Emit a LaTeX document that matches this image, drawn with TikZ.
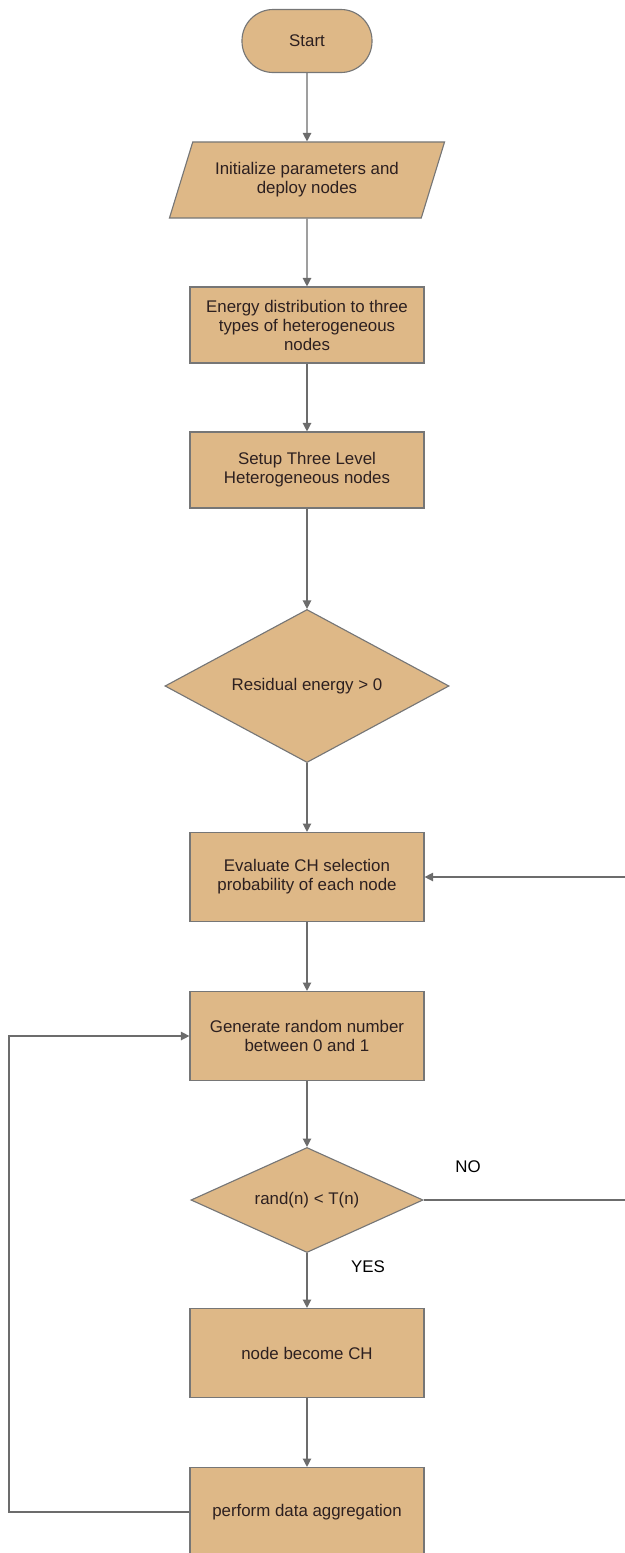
\documentclass[tikz,border=0pt]{standalone}
\usepackage{fontspec}
\setmainfont{Liberation Sans}
\usetikzlibrary{shapes.geometric,arrows.meta}
\definecolor{boxtan}{RGB}{222,184,135}
\definecolor{edgegray}{RGB}{118,118,118}
\definecolor{linkgray}{RGB}{108,108,108}
\definecolor{inkdark}{RGB}{45,32,32}
\begin{document}
\begin{tikzpicture}[x=0.025cm,y=-0.025cm,font=\fontsize{12}{13.5}\selectfont,
  base/.style={draw=edgegray,fill=boxtan,line width=0.8pt,text=inkdark,align=center,inner sep=2pt},
  procbox/.style={base,rectangle,minimum width=5.85cm,minimum height=1.9cm},
  tallbox/.style={procbox,minimum height=2.225cm},
  termbox/.style={base,rectangle,rounded corners=0.78cm,minimum width=3.25cm,minimum height=1.575cm},
  iobox/.style={base,trapezium,trapezium left angle=60,trapezium right angle=120,trapezium stretches body,minimum width=6.875cm,minimum height=1.9cm},
  testbox/.style={base,diamond,inner sep=0pt},
  link/.style={draw=linkgray,line width=0.9pt,-{Triangle[width=6pt,length=6pt]}},
  plain/.style={draw=linkgray,line width=0.9pt}]
\useasboundingbox (0,0) rectangle (625,1553);
\node[termbox] (start) at (307,41) {Start};
\node[iobox] (init) at (307,180) {Initialize parameters and\\deploy nodes};
\node[procbox] (energy) at (307,325) {Energy distribution to three\\types of heterogeneous\\nodes};
\node[procbox] (setup) at (307,470) {Setup Three Level\\Heterogeneous nodes};
\node[testbox,aspect=1.86,minimum width=7.1cm,minimum height=3.825cm] (resid) at (307,686) {Residual energy > 0};
\node[tallbox] (evalch) at (307,877) {Evaluate CH selection\\probability of each node};
\node[tallbox] (genrand) at (307,1036) {Generate random number\\between 0 and 1};
\node[testbox,aspect=2.2,minimum width=5.8cm,minimum height=2.625cm] (randt) at (307,1200) {rand(n) < T(n)};
\node[tallbox] (chnode) at (307,1353) {node become CH};
\node[tallbox] (aggr) at (307,1512) {perform data aggregation};
\node (nolabel) at (468,1167) {NO};
\node (yeslabel) at (368,1267) {YES};
\coordinate (loopl) at (9,1036);
\coordinate (noright) at (630,1200);
\coordinate (noup) at (630,877);
\draw[link] (start) -- (init);
\draw[link] (init) -- (energy);
\draw[link] (energy) -- (setup);
\draw[link] (setup) -- (resid);
\draw[link] (resid) -- (evalch);
\draw[link] (evalch) -- (genrand);
\draw[link] (genrand) -- (randt);
\draw[link] (randt) -- (chnode);
\draw[link] (chnode) -- (aggr);
\draw[link] (aggr.west) -| (loopl) -- (genrand.west);
\draw[link] (randt.east) -- (noright) -- (noup) -- (evalch.east);
\end{tikzpicture}
\end{document}
